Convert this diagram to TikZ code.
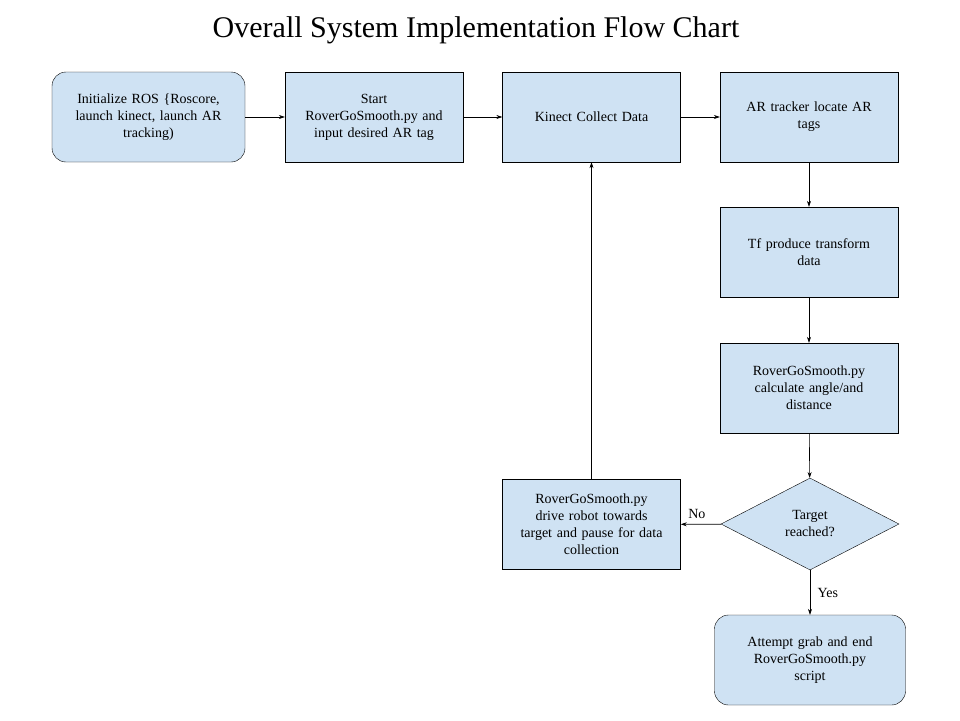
\documentclass[tikz,border=0pt]{standalone}
\usepackage{fontspec}
\setmainfont{Liberation Serif}
\usetikzlibrary{shapes.geometric,arrows.meta}
\definecolor{bx}{HTML}{CFE2F3}
\begin{document}
\begin{tikzpicture}[x=1pt,y=-1pt,
  box/.style={draw=black,fill=bx,minimum width=178pt,minimum height=90pt,align=center,font=\fontsize{14}{17}\selectfont,text width=170pt,inner sep=0pt},
  rbox/.style={box,rounded corners=14pt},
  dia/.style={draw=black,fill=bx,diamond,aspect=1.95,minimum width=178pt,minimum height=92pt,align=center,font=\fontsize{14}{17}\selectfont,inner sep=0pt},
  arr/.style={-{Stealth[length=6pt,width=4pt]},line width=0.6pt},
  lab/.style={font=\fontsize{14}{17}\selectfont}]
\useasboundingbox (0,0) rectangle (960,720);
\node[font=\fontsize{30}{34}\selectfont] (title) at (476,30) {Overall System Implementation Flow Chart};
\node[rbox,minimum width=193pt] (init) at (148.5,117) {Initialize ROS \{Roscore,\\launch kinect, launch AR\\tracking)};
\node[box] (start) at (374,117) {Start\\RoverGoSmooth.py and\\input desired AR tag};
\node[box] (kin) at (591.5,117) {Kinect Collect Data};
\node[box] (ar) at (809,117) {AR tracker locate AR\\tags};
\node[box] (tf) at (809,252) {Tf produce transform\\data};
\node[box] (calc) at (809,388) {RoverGoSmooth.py\\calculate angle/and\\distance};
\node[dia] (tgt) at (810,524) {Target\\reached?};
\node[box] (drive) at (591.5,524.5) {RoverGoSmooth.py\\drive robot towards\\target and pause for data\\collection};
\node[rbox,minimum width=191pt] (grab) at (810,660) {Attempt grab and end\\RoverGoSmooth.py\\script};
\draw[arr] (init) -- (start);
\draw[arr] (start) -- (kin);
\draw[arr] (kin) -- (ar);
\draw[arr] (ar) -- (tf);
\draw[arr] (tf) -- (calc);
\draw[arr] (calc) -- (tgt);
\draw[arr] (tgt) -- node[lab,above,pos=0.6,yshift=2pt] {No} (drive);
\draw[arr] (tgt) -- node[lab,right,xshift=4pt] {Yes} (grab);
\draw[arr] (drive) -- (kin);
\end{tikzpicture}
\end{document}
